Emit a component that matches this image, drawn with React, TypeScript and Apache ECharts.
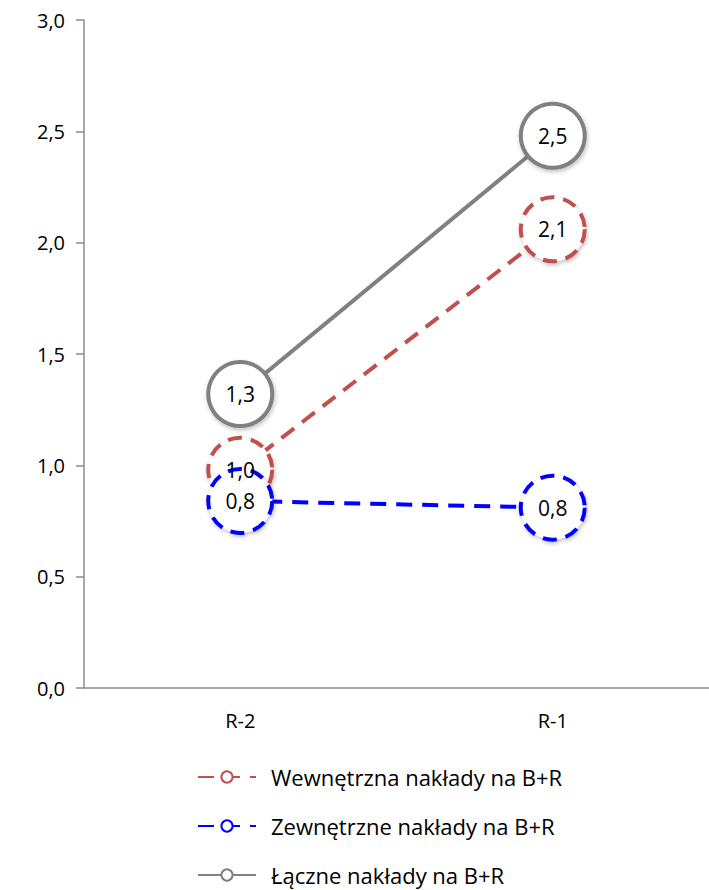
import React, { useEffect, useRef } from "react";
import * as echarts from "echarts";

const categories = ["R-2", "R-1"];
const seriesNames = [
  "Wewnętrzna nakłady na B+R",
  "Zewnętrzne nakłady na B+R",
  "Łączne nakłady na B+R",
];
const wewnetrzne = [0.98, 2.06];
const zewnetrzne = [0.84, 0.81];
const laczne = [1.32, 2.48];
const yTicks = [0, 0.5, 1.0, 1.5, 2.0, 2.5, 3.0];

const FONT = "'Open Sans', sans-serif";
const FS = 20;
const fmt = (v: number) => v.toFixed(1).replace(".", ",");

export default function App() {
  const ref = useRef<HTMLDivElement>(null);
  useEffect(() => {
    if (!ref.current) return;
    const chart = echarts.init(ref.current, undefined, { renderer: "svg" });
    const mk = (name: string, data: number[], color: string, dashed: boolean) => ({
      name,
      type: "line",
      data,
      symbol: "circle",
      symbolSize: 64,
      lineStyle: { color, width: 4, type: dashed ? [16, 10] : "solid" },
      itemStyle: {
        color: "#ffffff",
        borderColor: color,
        borderWidth: 4,
        borderType: dashed ? [14, 9] : "solid",
        shadowBlur: 4,
        shadowColor: "rgba(0,0,0,0.25)",
        shadowOffsetX: 1,
        shadowOffsetY: 2,
      },
      label: {
        show: true,
        position: "inside",
        formatter: (p: any) => fmt(Math.round(p.value * 10) / 10),
        fontSize: 21,
        fontFamily: FONT,
        color: "#000",
      },
      emphasis: { disabled: true },
    });
    chart.setOption({
      animation: false,
      grid: { left: 84, top: 20, width: 642, bottom: 202, containLabel: false },
      xAxis: {
        type: "category",
        data: categories,
        boundaryGap: true,
        axisLine: { lineStyle: { color: "#8c8c8c", width: 1.5 } },
        axisTick: { show: false },
        axisLabel: { fontSize: FS, fontFamily: FONT, color: "#000", margin: 22 },
      },
      yAxis: {
        type: "value",
        min: yTicks[0],
        max: yTicks[yTicks.length - 1],
        interval: 0.5,
        axisLine: { show: true, lineStyle: { color: "#8c8c8c", width: 1.5 } },
        axisTick: { show: true, length: 8, lineStyle: { color: "#8c8c8c", width: 1.5 } },
        splitLine: { show: false },
        axisLabel: {
          fontSize: FS,
          fontFamily: FONT,
          color: "#000",
          margin: 19,
          formatter: (v: number) => fmt(v),
        },
      },
      legend: {
        orient: "vertical",
        left: 192,
        top: 760,
        height: 300,
        itemWidth: 58,
        itemHeight: 14,
        itemGap: 25,
        textStyle: {
          fontSize: 22,
          fontFamily: FONT,
          color: "#000",
          lineHeight: 24,
          padding: [0, 0, 0, 10],
        },
        data: seriesNames,
      },
      series: [
        mk(seriesNames[0], wewnetrzne, "#c0504d", true),
        mk(seriesNames[1], zewnetrzne, "#0000ff", true),
        mk(seriesNames[2], laczne, "#808080", false),
      ],
    });
    return () => chart.dispose();
  }, []);
  return (
    <div
      ref={ref}
      style={{ position: "fixed", left: 0, top: 0, width: 709, height: 890, background: "#fff" }}
    />
  );
}
